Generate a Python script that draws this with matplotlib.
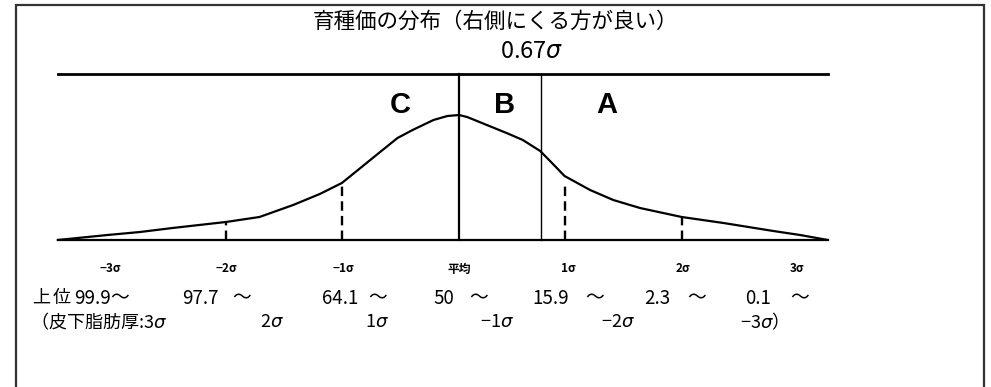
import numpy as np
import matplotlib
matplotlib.use('Agg')
import matplotlib.pyplot as plt
from matplotlib.lines import Line2D

plt.rcParams['font.family'] = ['Noto Sans CJK JP', 'DejaVu Sans']
plt.rcParams['mathtext.fontset'] = 'custom'
plt.rcParams['mathtext.rm'] = 'Noto Sans CJK JP'
plt.rcParams['mathtext.it'] = 'DejaVu Sans:italic'
plt.rcParams['mathtext.bf'] = 'Noto Sans CJK JP:bold'

# breeding value distribution, x in sigma units, y in arbitrary height units
curve_z = [-3.46, -3.03, -2.75, -2.47, -2.01, -1.72, -1.43, -1.20, -1.01, -0.85,
           -0.68, -0.53, -0.40, -0.22, -0.10, 0.0, 0.07, 0.24, 0.41, 0.55,
           0.70, 0.81, 0.91, 1.13, 1.33, 1.56, 1.92, 2.28, 2.71, 2.94, 3.18]
curve_h = [0, 5, 8, 12, 18, 23, 35, 46, 57, 72,
           88, 102, 110, 120, 124, 125, 123, 115, 107, 100,
           89, 76, 64, 50, 40, 32, 23, 17, 9, 5, 0]

# dashed sigma markers (position, top height)
dash_z = [-2.01, -1.01, 0.91, 1.92]
dash_h = [19, 57, 57, 23]

mean_z = 0.0
split_z = 0.71          # 0.67 sigma line as drawn
top_h = 166             # height of the upper rule

grades = ['C', 'B', 'A']
sigma_labels = ['−3σ', '−2σ', '−1σ', '平均', '1σ', '2σ', '3σ']
rank_pct = ['99.9', '97.7', '64.1', '50', '15.9', '2.3', '0.1']
fat_sigma = ['（皮下脂肪厚:3$\\sigma$', '2$\\sigma$', '1$\\sigma$', '−1$\\sigma$', '−2$\\sigma$', '−3$\\sigma$）']

# pixel -> data helpers (mean drawn at x=459px, baseline at y=240px, 116px per sigma)
def zx(px):
	return (px - 459) / 116.0

def hy(py):
	return 240 - py

fig = plt.figure(figsize=(9.91, 3.87), dpi=100)
ax = fig.add_axes([0, 0, 1, 1])
ax.set_xlim(zx(0), zx(991))
ax.set_ylim(hy(387), hy(0))
ax.axis('off')

# frame
ax.add_line(Line2D([zx(16), zx(16), zx(984), zx(984)], [hy(395), hy(5), hy(5), hy(395)],
	color='#333333', lw=1.6, solid_joinstyle='miter'))

# baseline and upper rule
ax.plot([curve_z[0], curve_z[-1]], [0, 0], color='black', lw=1.6)
ax.plot([curve_z[0], curve_z[-1]], [top_h, top_h], color='black', lw=2.0)

# curve
ax.plot(curve_z, curve_h, color='black', lw=1.6, solid_capstyle='round', solid_joinstyle='round')

# vertical lines
ax.plot([mean_z, mean_z], [0, top_h], color='black', lw=1.6)
ax.plot([split_z, split_z], [0, top_h], color='black', lw=1.0)

for z, h in zip(dash_z, dash_h):
	ax.plot([z, z], [0, h], color='black', lw=1.7, dashes=(4, 2.2))

# texts
ax.text(zx(495), hy(22), '育種価の分布（右側にくる方が良い）', ha='center', va='center', fontsize=15.5)
ax.text(zx(532), hy(52), '0.67$\\sigma$', ha='center', va='center', fontsize=17)

for g, px in zip(grades, [400, 505, 607]):
	ax.text(zx(px), hy(105), g, ha='center', va='center', fontsize=21, fontweight='bold',
		family=['Liberation Sans', 'DejaVu Sans'])

for s, px in zip(sigma_labels, [110, 226, 343, 459, 568, 683, 797]):
	ax.text(zx(px), hy(269), s, ha='center', va='center', fontsize=8.5, fontweight='bold')

ax.text(zx(32), hy(298), '上', ha='left', va='center', fontsize=13)
ax.text(zx(53), hy(298), '位', ha='left', va='center', fontsize=13)
for p, px, tx in zip(rank_pct, [74, 182, 322, 433, 532, 644, 745], [120, 242, 378, 479, 595, 697, 800]):
	ax.text(zx(px), hy(298), p, ha='left', va='center', fontsize=13.5)
	ax.text(zx(tx), hy(298), '～', ha='center', va='center', fontsize=13.5)

for s, px in zip(fat_sigma, [30, 260, 365, 480, 601, 740]):
	ax.text(zx(px), hy(322), s, ha='left', va='center', fontsize=13)

fig.savefig('out.png', dpi=100)
